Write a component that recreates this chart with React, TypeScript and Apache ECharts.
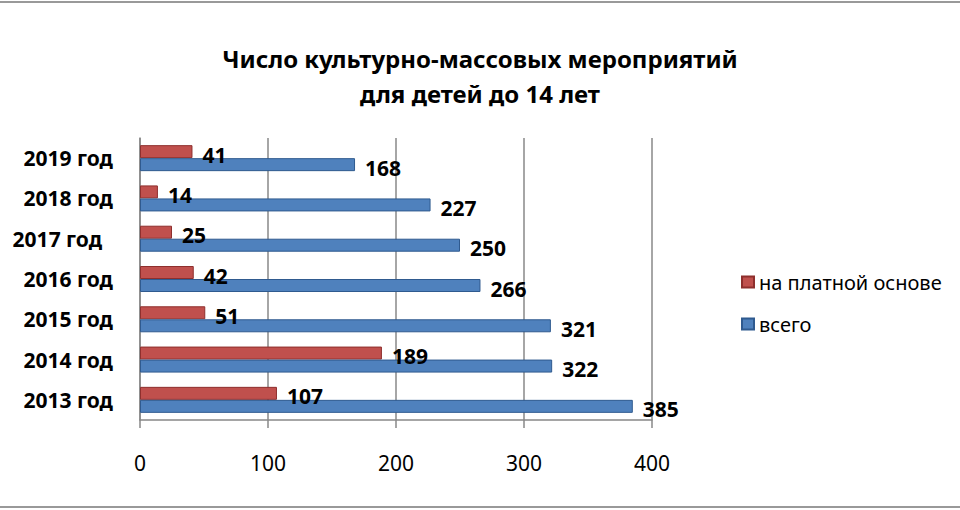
import React, { useEffect, useRef } from "react";
import * as echarts from "echarts";

const categories = ["2013 год", "2014 год", "2015 год", "2016 год", "2017 год\u00a0\u00a0", "2018 год", "2019 год"];
const paidValues = [107, 189, 51, 42, 25, 14, 41];
const totalValues = [385, 322, 321, 266, 250, 227, 168];
const seriesNames = ["на платной основе", "всего"];
const titleLines = ["Число культурно-массовых мероприятий", "для детей до 14 лет"];

const FONT = "Noto Sans";

export default function App() {
  const ref = useRef<HTMLDivElement>(null);
  useEffect(() => {
    document.body.style.margin = "0";
    const chart = echarts.init(ref.current!, null, { renderer: "svg" });
    const labelStyle = {
      show: true,
      position: "right",
      distance: 10,
      offset: [0, 3],
      fontFamily: FONT,
      fontWeight: "bold",
      fontSize: 21,
      color: "#000",
    };
    chart.setOption({
      animation: false,
      backgroundColor: "#fff",
      title: {
        text: titleLines.join("\n"),
        left: "center",
        top: 32,
        textStyle: {
          fontFamily: FONT,
          fontWeight: "bold",
          fontSize: 24,
          lineHeight: 35,
          color: "#000",
        },
      },
      legend: {
        data: seriesNames,
        orient: "vertical",
        left: 736,
        top: 263,
        itemGap: 22,
        itemWidth: 12,
        itemHeight: 11,
        icon: "rect",
        textStyle: { fontFamily: FONT, fontSize: 20, color: "#000" },
      },
      grid: { left: 140, right: 308, top: 134, bottom: 84, containLabel: false },
      xAxis: {
        type: "value",
        min: 0,
        max: 400,
        interval: 100,
        axisLine: { show: true, lineStyle: { color: "#888", width: 1.5 } },
        axisTick: { show: true, length: 8, lineStyle: { color: "#888", width: 1.5 } },
        axisLabel: { margin: 32, fontFamily: FONT, fontSize: 21, color: "#000" },
        splitLine: { show: true, lineStyle: { color: "#888", width: 1.5 } },
      },
      yAxis: {
        type: "category",
        data: categories,
        axisLine: { show: true, lineStyle: { color: "#888", width: 1.5 } },
        axisTick: { show: false },
        axisLabel: { margin: 27, fontFamily: FONT, fontWeight: "bold", fontSize: 21, color: "#000" },
      },
      series: [
        {
          name: seriesNames[0],
          type: "bar",
          data: paidValues,
          barWidth: 13,
          barGap: "0%",
          itemStyle: { color: "#C0504D", borderColor: "#8E2F2D", borderWidth: 1 },
          label: labelStyle,
        },
        {
          name: seriesNames[1],
          type: "bar",
          data: totalValues,
          barWidth: 13,
          barGap: "0%",
          itemStyle: { color: "#4F81BD", borderColor: "#2F5A8F", borderWidth: 1 },
          label: labelStyle,
        },
      ],
    });
    return () => chart.dispose();
  }, []);
  return (
    <div style={{ position: "relative", width: 960, height: 510, background: "#fff" }}>
      <div style={{ position: "absolute", left: 0, top: 1, width: 960, height: 2, background: "#999" }} />
      <div style={{ position: "absolute", left: 0, top: 506, width: 960, height: 2, background: "#999" }} />
      <div ref={ref} style={{ position: "absolute", left: 0, top: 4, width: 960, height: 500 }} />
    </div>
  );
}
